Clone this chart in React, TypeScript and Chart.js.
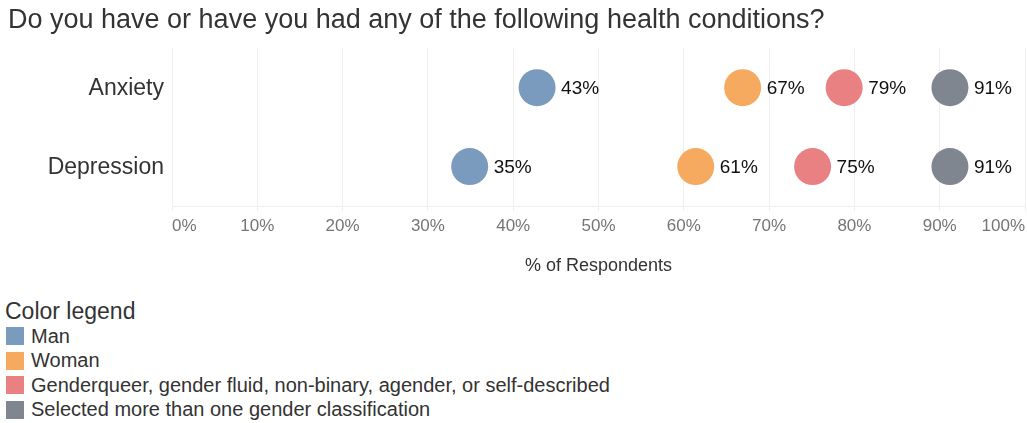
import React, { useEffect, useRef } from 'react';
import { Chart, registerables } from 'chart.js';

Chart.register(...registerables);

const FONT = '"Liberation Sans", Arial, Helvetica, sans-serif';

const titleText = 'Do you have or have you had any of the following health conditions?';
const conditions = ['Anxiety', 'Depression'];
const groups = [
  'Man',
  'Woman',
  'Genderqueer, gender fluid, non-binary, agender, or self-described',
  'Selected more than one gender classification',
];
const manValues = [42.8, 34.9];
const womanValues = [66.9, 61.4];
const genderqueerValues = [78.8, 75.1];
const multipleValues = [91.2, 91.2];
const groupColors = ['#7a9bbd', '#f5aa5f', '#e98183', '#80868f'];
const xMin = 0;
const xMax = 100;
const xStep = 10;
const xTitle = '% of Respondents';
const legendTitle = 'Color legend';

const seriesValues = [manValues, womanValues, genderqueerValues, multipleValues];

const valueLabels = {
  id: 'valueLabels',
  afterDatasetsDraw(chart: any) {
    const ctx = chart.ctx;
    ctx.save();
    ctx.font = `19px ${FONT}`;
    ctx.fillStyle = '#111111';
    ctx.textBaseline = 'middle';
    ctx.textAlign = 'left';
    chart.data.datasets.forEach((ds: any, i: number) => {
      const meta = chart.getDatasetMeta(i);
      meta.data.forEach((pt: any, j: number) => {
        const v = ds.data[j] as number;
        ctx.fillText(`${Math.round(v)}%`, pt.x + 24, pt.y + 1.5);
      });
    });
    ctx.restore();
  },
};

export default function App() {
  const canvasRef = useRef<HTMLCanvasElement | null>(null);

  useEffect(() => {
    if (!canvasRef.current) return;
    const chart = new Chart(canvasRef.current, {
      type: 'line',
      data: {
        labels: conditions,
        datasets: groups.map((g, i) => ({
          label: g,
          data: seriesValues[i],
          showLine: false,
          pointRadius: 18.5,
          pointHoverRadius: 18.5,
          pointBorderWidth: 0,
          pointBackgroundColor: groupColors[i],
          pointBorderColor: groupColors[i],
          backgroundColor: groupColors[i],
          borderColor: groupColors[i],
          clip: false,
        })),
      },
      options: {
        indexAxis: 'y',
        responsive: false,
        animation: false,
        layout: { autoPadding: false, padding: { left: 8, right: 2, top: 0, bottom: 13.2 } },
        plugins: {
          legend: { display: false },
          tooltip: { enabled: false },
          title: {
            display: true,
            text: titleText,
            align: 'start',
            color: '#333333',
            font: { family: FONT, size: 27, weight: 'normal' },
            padding: { top: 4.4, bottom: 11.4 },
          },
        },
        scales: {
          x: {
            type: 'linear',
            position: 'bottom',
            min: xMin,
            max: xMax,
            grid: { color: '#efefef', lineWidth: 1, tickLength: 5, drawTicks: true },
            border: { color: '#efefef' },
            ticks: {
              stepSize: xStep,
              align: 'inner',
              padding: 5,
              color: '#757575',
              font: { family: FONT, size: 17 },
              callback: (v: any) => `${v}%`,
            },
            title: {
              display: true,
              text: xTitle,
              color: '#333333',
              font: { family: FONT, size: 18 },
              padding: { top: 13.8, bottom: 0 },
            },
            afterFit: (scale: any) => {
              scale.paddingLeft = 0;
              scale.paddingRight = 0;
            },
          },
          y: {
            type: 'category',
            offset: true,
            grid: { display: false, drawTicks: false },
            border: { display: false },
            ticks: {
              padding: 8,
              labelOffset: 1.5,
              color: '#333333',
              font: { family: FONT, size: 23 },
            },
            afterFit: (scale: any) => {
              scale.width = 164;
            },
          },
        },
      },
      plugins: [valueLabels],
    } as any);
    return () => chart.destroy();
  }, []);

  return (
    <div style={{ position: 'absolute', left: 0, top: 0, width: 1027, height: 423, background: '#fff', fontFamily: FONT }}>
      <canvas ref={canvasRef} width={1027} height={290} style={{ display: 'block', width: 1027, height: 290 }} />
      <div style={{ position: 'absolute', left: 5, top: 298, color: '#333333' }}>
        <div style={{ fontSize: 23, lineHeight: '26px', whiteSpace: 'nowrap' }}>{legendTitle}</div>
        {groups.map((g, i) => (
          <div key={g} style={{ display: 'flex', alignItems: 'center', height: 24.5, fontSize: 20, whiteSpace: 'nowrap' }}>
            <span style={{ display: 'inline-block', width: 18, height: 18, background: groupColors[i], marginLeft: 1, marginRight: 7 }} />
            <span>{g}</span>
          </div>
        ))}
      </div>
    </div>
  );
}
